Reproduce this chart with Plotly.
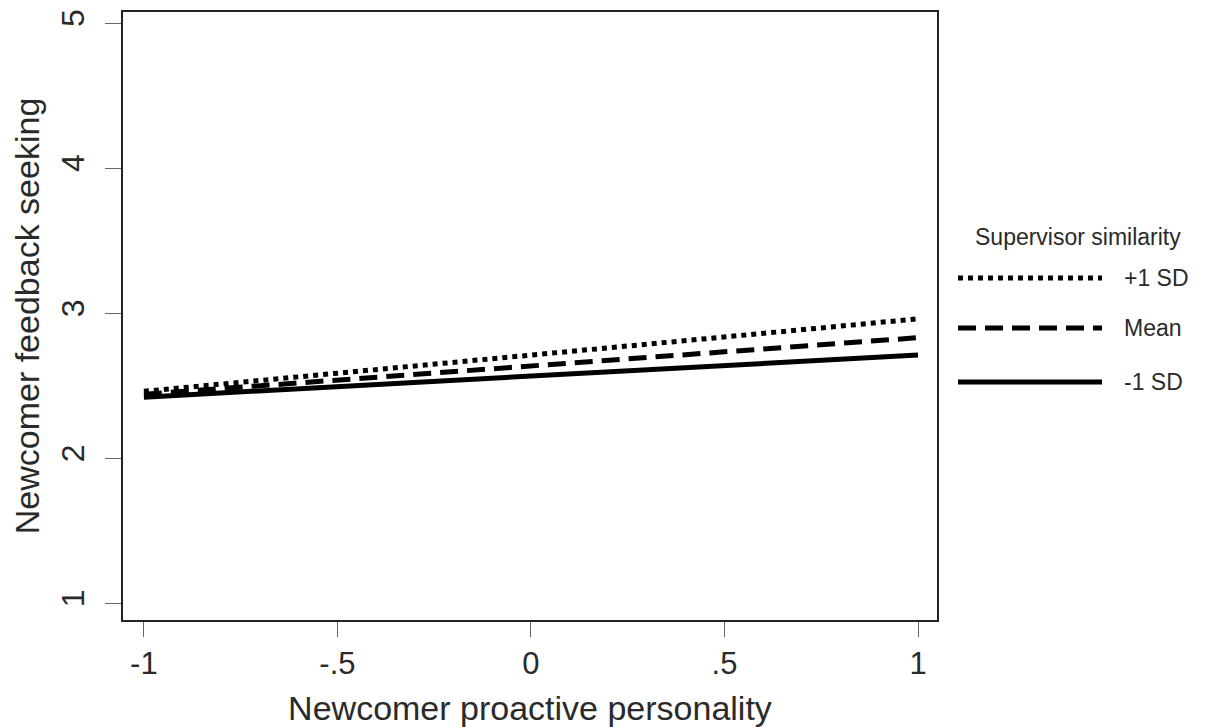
import plotly.graph_objects as go

x_vals = [-1, 1]
plus1sd = [2.46, 2.96]
mean_vals = [2.44, 2.83]
minus1sd = [2.42, 2.71]

x_tickvals = [-1, -0.5, 0, 0.5, 1]
x_ticktext = ["-1", "-.5", "0", ".5", "1"]
y_tickvals = [1, 2, 3, 4, 5]
y_ticktext = ["1", "2", "3", "4", "5"]

legend_title = "Supervisor similarity"
series_names = ["+1 SD", "Mean", "-1 SD"]
series_dash = ["dot", "18px,9px", "solid"]
series_data = [plus1sd, mean_vals, minus1sd]

FONT = "Liberation Sans, Arial, sans-serif"
TXT = "#2a2a2a"
fig = go.Figure()
for name, ys, dash in zip(series_names, series_data, series_dash):
    fig.add_trace(go.Scatter(x=x_vals, y=ys, mode="lines", name=name,
                             line=dict(color="black", width=5, dash=dash),
                             showlegend=False))

OFF = 8  # page body margin
W, H = 1211 - OFF, 727 - OFF
ml, mr, mt, mb = 123 - OFF, 274, 12 - OFF, 107
pw, ph = W - ml - mr, H - mt - mb

def px2paper(px, py):
    # px, py are screen coordinates
    return (px - OFF - ml) / pw, (H - mb - (py - OFF)) / ph

# custom legend
tx, ty = px2paper(1078, 237)
fig.add_annotation(x=tx, y=ty, xref="paper", yref="paper", text=legend_title,
                   showarrow=False, font=dict(family=FONT, size=23, color=TXT),
                   xanchor="center", yanchor="middle")
legend_rows = [278, 328, 382]
for name, dash, ry in zip(series_names, series_dash, legend_rows):
    x0, y0 = px2paper(958, ry)
    x1, _ = px2paper(1102, ry)
    fig.add_shape(type="line", xref="paper", yref="paper", x0=x0, x1=x1, y0=y0, y1=y0,
                  line=dict(color="black", width=5, dash=dash))
    lx, _ = px2paper(1122, ry)
    fig.add_annotation(x=lx, y=y0, xref="paper", yref="paper", text=name,
                       showarrow=False, font=dict(family=FONT, size=23, color=TXT),
                       xanchor="left", yanchor="middle")

fig.update_layout(
    width=W, height=H,
    margin=dict(l=ml, r=mr, t=mt, b=mb, autoexpand=False),
    paper_bgcolor="white", plot_bgcolor="white",
    font=dict(family=FONT, color=TXT),
    xaxis=dict(range=[-1.054, 1.049], tickvals=x_tickvals, ticktext=x_ticktext,
               automargin=False,
               showgrid=False, zeroline=False, showline=True, mirror=True,
               linecolor="#222", linewidth=2, ticks="outside", ticklen=15,
               tickcolor="#666", tickwidth=1, tickfont=dict(size=31, color=TXT),
               ticklabelstandoff=0,
               title=dict(text="Newcomer proactive personality", font=dict(size=34, color=TXT),
                          standoff=16)),
    yaxis=dict(range=[0.883, 5.076], tickvals=y_tickvals, ticktext=y_ticktext,
               automargin=False,
               showgrid=False, zeroline=False, showline=True, mirror=True,
               linecolor="#222", linewidth=2, ticks="outside", ticklen=16,
               tickcolor="#666", tickwidth=1, tickangle=-90,
               tickfont=dict(size=32, color=TXT),
               ticklabelstandoff=8,
               title=dict(text="Newcomer feedback seeking", font=dict(size=34, color=TXT),
                          standoff=18)),
)

fig.write_html("out.html")
